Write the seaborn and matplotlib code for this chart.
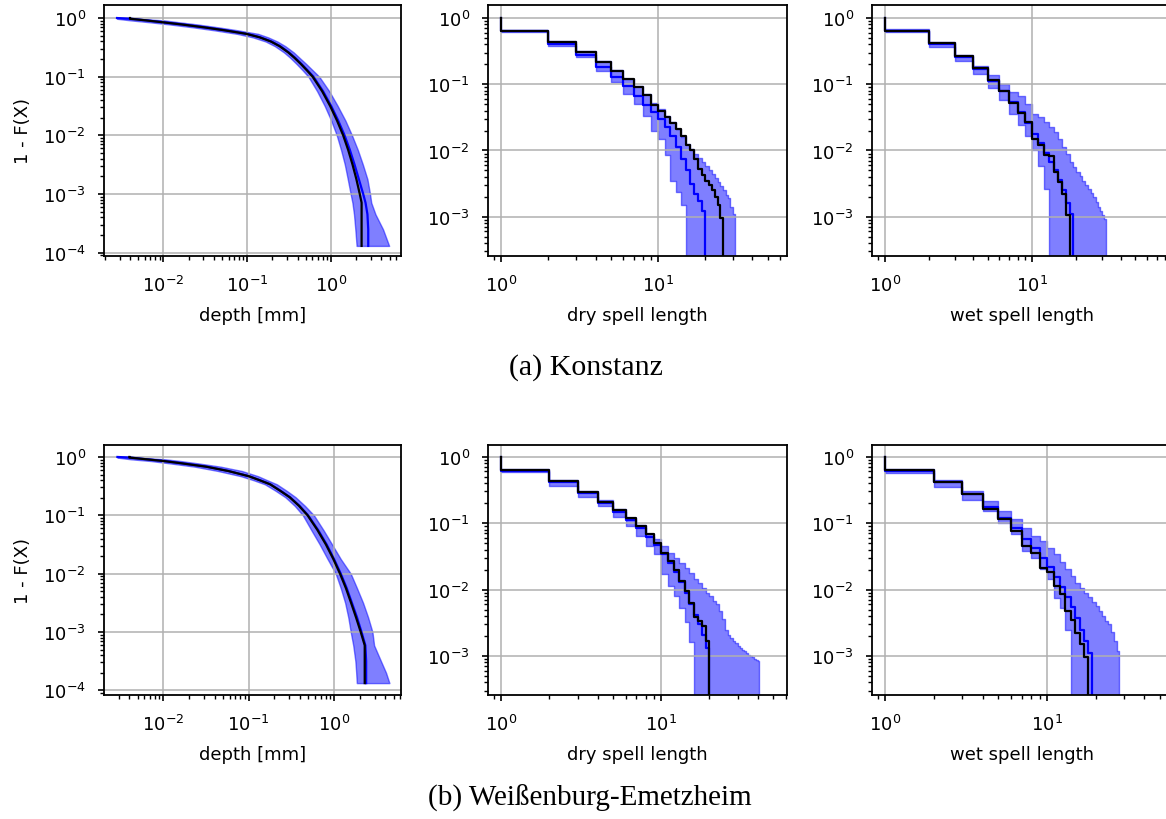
import numpy as np
import seaborn as sns
import matplotlib.pyplot as plt

# ---------------- depth panels (probability level -> depth in mm) ----------------
kn_depth_p = [1.0, 0.97, 0.912, 0.843, 0.776, 0.692, 0.617, 0.537, 0.468, 0.398, 0.331, 0.259,
              0.209, 0.164, 0.129, 0.1, 0.0562, 0.0316, 0.0178, 0.01, 0.00562, 0.00316,
              0.00178, 0.001, 7.1e-4, 4.5e-4, 2.5e-4, 1.3e-4]
kn_depth_obs = [0.004, 0.004, 0.00617, 0.01, 0.0166, 0.0309, 0.0537, 0.0977, 0.141, 0.191, 0.243,
                0.309, 0.367, 0.437, 0.513, 0.603, 0.785, 0.977, 1.18, 1.396, 1.603, 1.807,
                2.009, 2.203, 2.317, 2.317, 2.317, 2.317]
kn_depth_med = [0.0028, 0.0042, 0.0063, 0.0102, 0.0169, 0.0315, 0.0548, 0.0997, 0.144, 0.195,
                0.248, 0.315, 0.375, 0.446, 0.524, 0.617, 0.805, 1.005, 1.22, 1.45, 1.68, 1.91,
                2.15, 2.42, 2.58, 2.72, 2.78, 2.78]
kn_depth_lo = [0.0028, 0.0028, 0.00407, 0.00708, 0.012, 0.0229, 0.0407, 0.0759, 0.117, 0.166,
               0.214, 0.275, 0.327, 0.389, 0.457, 0.537, 0.684, 0.841, 1.005, 1.17, 1.318,
               1.462, 1.585, 1.714, 1.80, 1.88, 1.95, 2.02]
kn_depth_hi = [0.0028, 0.005, 0.0102, 0.0158, 0.0257, 0.0457, 0.0776, 0.135, 0.178, 0.229,
               0.285, 0.359, 0.422, 0.507, 0.603, 0.724, 0.955, 1.202, 1.486, 1.778, 2.09,
               2.4, 2.72, 2.92, 3.02, 3.39, 4.17, 4.94]

we_depth_p = [1.0, 0.975, 0.912, 0.853, 0.776, 0.682, 0.575, 0.468, 0.398, 0.34, 0.263, 0.204,
              0.145, 0.1, 0.0562, 0.0316, 0.0178, 0.01, 0.00562, 0.00316, 0.00178, 0.001,
              5.9e-4, 3.16e-4, 2.0e-4, 1.33e-4]
we_depth_obs = [0.004, 0.004, 0.0063, 0.01, 0.0166, 0.0316, 0.0575, 0.1, 0.135, 0.178, 0.234,
                0.302, 0.389, 0.49, 0.638, 0.804, 0.982, 1.175, 1.38, 1.585, 1.811, 2.056,
                2.29, 2.29, 2.29, 2.29]
we_depth_med = [0.0029, 0.0042, 0.0064, 0.0102, 0.0168, 0.032, 0.058, 0.101, 0.137, 0.18, 0.237,
                0.306, 0.395, 0.497, 0.65, 0.82, 1.0, 1.2, 1.41, 1.62, 1.86, 2.1,
                2.33, 2.38, 2.38, 2.38]
we_depth_lo = [0.0029, 0.0029, 0.00417, 0.00708, 0.012, 0.0234, 0.0437, 0.0813, 0.115, 0.155,
               0.207, 0.269, 0.347, 0.431, 0.54, 0.68, 0.84, 1.047, 1.2, 1.35, 1.47, 1.57,
               1.68, 1.78, 1.82, 1.85]
we_depth_hi = [0.0029, 0.005, 0.0105, 0.0158, 0.0257, 0.0468, 0.0832, 0.129, 0.166, 0.214,
               0.279, 0.355, 0.457, 0.582, 0.75, 0.95, 1.2, 1.57, 1.86, 2.19, 2.51, 2.82,
               2.95, 3.55, 4.07, 4.46]

# ---------------- spell panels (value at spell length 1, 2, 3, ...) ----------------
kn_dry_obs = [0.644, 0.44, 0.304, 0.22, 0.157, 0.119, 0.090, 0.068, 0.049, 0.040, 0.032, 0.026,
              0.021, 0.0164, 0.0119, 0.0100, 0.0075, 0.0053, 0.0042, 0.0035, 0.0030, 0.0025,
              0.0020, 0.0015, 0.00095, 0]
kn_dry_med = [0.63, 0.406, 0.277, 0.18, 0.128, 0.093, 0.0675, 0.0488, 0.0378, 0.030, 0.0225,
              0.0168, 0.0112, 0.0075, 0.005, 0.0031, 0.0022, 0.0017, 0.0012, 0]
kn_dry_lo = [0.608, 0.383, 0.255, 0.161, 0.107, 0.0715, 0.0505, 0.0337, 0.020, 0.015, 0.0084,
             0.0035, 0.0024, 0.0015, 0]
kn_dry_hi = [0.667, 0.455, 0.322, 0.227, 0.166, 0.120, 0.093, 0.0715, 0.0523, 0.0425, 0.033,
             0.0267, 0.0212, 0.016, 0.0126, 0.0106, 0.0089, 0.0077, 0.0067, 0.0058, 0.0051,
             0.0044, 0.0039, 0.0034, 0.0029, 0.0025, 0.0021, 0.0019, 0.0014, 0.0011, 0]

kn_wet_obs = [0.644, 0.42, 0.264, 0.174, 0.114, 0.080, 0.052, 0.037, 0.027, 0.015, 0.0119,
              0.0084, 0.0082, 0.0047, 0.0033, 0.0022, 0.00105, 0]
kn_wet_med = [0.635, 0.41, 0.255, 0.17, 0.112, 0.078, 0.054, 0.038, 0.026, 0.0175, 0.0128,
              0.0093, 0.0068, 0.005, 0.0036, 0.0025, 0.0016, 0.0011, 0]
kn_wet_lo = [0.608, 0.361, 0.227, 0.143, 0.087, 0.057, 0.036, 0.024, 0.0168, 0.010, 0.0059,
             0.0026, 0]
kn_wet_hi = [0.683, 0.44, 0.277, 0.191, 0.138, 0.101, 0.0756, 0.0675, 0.0505, 0.0358, 0.0318,
             0.0267, 0.0225, 0.0189, 0.015, 0.0112, 0.0089, 0.0067, 0.0056, 0.0047, 0.0041,
             0.0035, 0.0030, 0.0026, 0.0023, 0.00198, 0.00168, 0.0014, 0.00122, 0.00105,
             0.00093, 0]

we_dry_obs = [0.623, 0.43, 0.294, 0.208, 0.156, 0.118, 0.090, 0.069, 0.051, 0.036, 0.027, 0.020,
              0.0134, 0.0095, 0.0063, 0.0038, 0.0034, 0.0028, 0.0017, 0]
we_dry_med = [0.615, 0.41, 0.28, 0.198, 0.148, 0.11, 0.083, 0.062, 0.046, 0.034, 0.025, 0.0185,
              0.0128, 0.0088, 0.0061, 0.0042, 0.003, 0.0021, 0.0013, 0]
we_dry_lo = [0.588, 0.362, 0.25, 0.181, 0.125, 0.0904, 0.064, 0.0452, 0.0339, 0.017, 0.0113,
             0.008, 0.0052, 0.0033, 0.0016, 0]
we_dry_hi = [0.66, 0.446, 0.304, 0.22, 0.161, 0.121, 0.093, 0.0677, 0.057, 0.0452, 0.0359,
             0.0295, 0.0248, 0.0213, 0.0179, 0.0142, 0.0124, 0.0104, 0.0090, 0.0080, 0.0067,
             0.0060, 0.00475, 0.00356, 0.0025, 0.0021, 0.00189, 0.00168, 0.00155, 0.00141,
             0.00133, 0.00125, 0.00118, 0.00111, 0.00105, 0.001, 0.00095, 0.00089, 0.00087,
             0.00085, 0]

we_wet_obs = [0.623, 0.416, 0.271, 0.165, 0.114, 0.076, 0.0452, 0.0359, 0.0213, 0.0184, 0.0113,
              0.0085, 0.0048, 0.0035, 0.0022, 0.0015, 0.00095, 0]
we_wet_med = [0.615, 0.41, 0.27, 0.175, 0.12, 0.083, 0.058, 0.042, 0.030, 0.0215, 0.0155, 0.011,
              0.0078, 0.0055, 0.0037, 0.0025, 0.0017, 0.0011, 0]
we_wet_lo = [0.574, 0.354, 0.223, 0.152, 0.101, 0.0677, 0.038, 0.0302, 0.0202, 0.0143, 0.0075,
             0.0053, 0.0025, 0]
we_wet_hi = [0.66, 0.446, 0.304, 0.215, 0.152, 0.117, 0.0853, 0.064, 0.0538, 0.0426, 0.0338,
             0.0259, 0.0202, 0.0159, 0.0127, 0.0107, 0.009, 0.0078, 0.0064, 0.0057, 0.0048,
             0.004, 0.0034, 0.003, 0.0023, 0.0017, 0.0012, 0]

captions = ["(a) Konstanz", "(b) Weißenburg-Emetzheim"]

plt.style.use('default')
plt.rcParams.update({
    'font.size': 13,
    'axes.linewidth': 1.3,
    'axes.labelpad': 8.0,
    'xtick.major.pad': 9.0, 'ytick.major.pad': 8.5,
    'xtick.major.width': 1.2, 'ytick.major.width': 1.2,
    'xtick.minor.width': 1.0, 'ytick.minor.width': 1.0,
    'xtick.major.size': 4.6, 'ytick.major.size': 4.6,
    'xtick.minor.size': 2.7, 'ytick.minor.size': 2.7,
})


def depth_panel(ax, p, obs, med, lo, hi, xlim, ylim):
    ax.set_xscale('log')
    ax.set_yscale('log')
    ax.fill_betweenx(p, lo, hi, color='blue', alpha=0.5, lw=1)
    sns.lineplot(x=med, y=p, ax=ax, color='blue', lw=1.6, sort=False, estimator=None)
    sns.lineplot(x=obs, y=p, ax=ax, color='black', lw=1.6, sort=False, estimator=None)
    ax.set_xlim(*xlim)
    ax.set_ylim(*ylim)
    ax.set_xlabel('depth [mm]')
    ax.set_ylabel('1 - F(X)')
    ax.grid(True, color='#b0b0b0', lw=1.1)


def spell_panel(ax, obs, med, lo, hi, xlim, ylim, xlabel):
    ax.set_xscale('log')
    ax.set_yscale('log')
    n = len(hi)
    x = np.arange(1, n + 1)
    lo_full = list(lo) + [0.0] * (n - len(lo))
    ax.fill_between(x, lo_full, hi, step='post', color='blue', alpha=0.5, lw=1)
    for vals, col in ((med, 'blue'), (obs, 'black')):
        xs = np.r_[1, np.arange(1, len(vals) + 1)]
        ys = np.r_[1.0, vals]
        sns.lineplot(x=xs, y=ys, ax=ax, color=col, lw=1.6, drawstyle='steps-post',
                     sort=False, estimator=None)
    ax.set_xlim(*xlim)
    ax.set_ylim(*ylim)
    ax.set_xlabel(xlabel)
    ax.set_ylabel('')
    ax.grid(True, color='#b0b0b0', lw=1.1)


fig = plt.figure(figsize=(11.66, 8.2), dpi=100)
W, H = 1166.0, 820.0


def add_ax(left, top, right, bottom):
    return fig.add_axes([left / W, 1 - bottom / H, (right - left) / W, (bottom - top) / H])


rows = [
    dict(top=6, bottom=257,
         depth=(kn_depth_p, kn_depth_obs, kn_depth_med, kn_depth_lo, kn_depth_hi,
                (10 ** -2.708, 10 ** 0.835), (10 ** -4.058, 10 ** 0.222)),
         dry=(kn_dry_obs, kn_dry_med, kn_dry_lo, kn_dry_hi,
              (10 ** -0.085, 10 ** 1.823), (10 ** -3.593, 10 ** 0.196)),
         wet=(kn_wet_obs, kn_wet_med, kn_wet_lo, kn_wet_hi,
              (10 ** -0.086, 10 ** 1.943), (10 ** -3.593, 10 ** 0.196))),
    dict(top=446, bottom=696,
         depth=(we_depth_p, we_depth_obs, we_depth_med, we_depth_lo, we_depth_hi,
                (10 ** -2.695, 10 ** 0.785), (10 ** -4.08, 10 ** 0.205)),
         dry=(we_dry_obs, we_dry_med, we_dry_lo, we_dry_hi,
              (10 ** -0.083, 10 ** 1.786), (10 ** -3.587, 10 ** 0.175)),
         wet=(we_wet_obs, we_wet_med, we_wet_lo, we_wet_hi,
              (10 ** -0.0825, 10 ** 1.767), (10 ** -3.587, 10 ** 0.175))),
]

for r in rows:
    ax1 = add_ax(104, r['top'], 401, r['bottom'])
    depth_panel(ax1, *r['depth'])
    ax2 = add_ax(488, r['top'], 787, r['bottom'])
    spell_panel(ax2, *r['dry'], 'dry spell length')
    ax3 = add_ax(872, r['top'], 1171, r['bottom'])
    spell_panel(ax3, *r['wet'], 'wet spell length')

fig.text(586 / W, 1 - 368 / H, captions[0], ha='center', va='center',
         family=['Liberation Serif', 'DejaVu Serif'], fontsize=21.5)
fig.text(590 / W, 1 - 798 / H, captions[1], ha='center', va='center',
         family=['Liberation Serif', 'DejaVu Serif'], fontsize=21)

fig.savefig('out.png', dpi=100)
